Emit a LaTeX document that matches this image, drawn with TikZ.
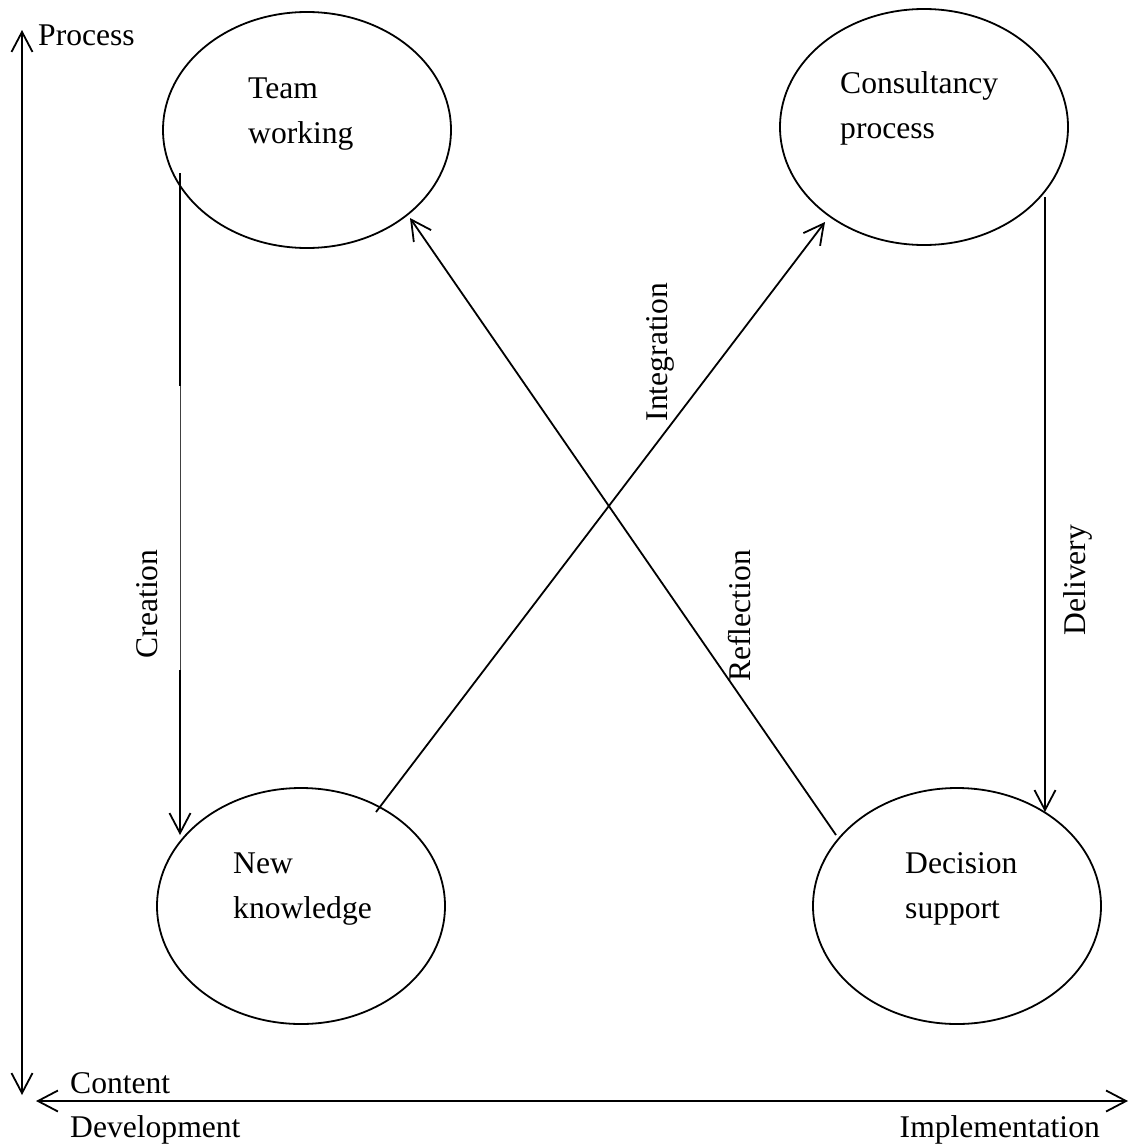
\documentclass[tikz,border=0pt]{standalone}
\usepackage{fontspec}
\setmainfont{Liberation Serif}
\usetikzlibrary{shapes.geometric,arrows.meta}
\begin{document}
\begin{tikzpicture}[x=1pt,y=-1pt,
  every node/.style={font=\fontsize{31.6}{38}\selectfont, inner sep=0pt},
  bubble/.style={draw, ellipse, line width=1.8pt, minimum width=288pt, minimum height=236pt},
  txt/.style={anchor=base west},
  conn/.style={line width=1.8pt, -{Straight Barb[length=20pt,width=21pt,line width=1.8pt]}},
  axis/.style={line width=1.8pt, {Straight Barb[length=20pt,width=21pt,line width=1.8pt]}-{Straight Barb[length=20pt,width=21pt,line width=1.8pt]}}]
\useasboundingbox (0,0) rectangle (1129,1146);
\fill[white] (0,0) rectangle (1129,1146);

% ellipses
\node[bubble] (tw) at (307,130) {};
\node[bubble] (cp) at (924,127) {};
\node[bubble] (nk) at (301,906) {};
\node[bubble] (ds) at (957,906) {};

% texts in ellipses
\node[txt] (tw1) at (248,98) {Team};
\node[txt] (tw2) at (248,143) {working};
\node[txt] (cp1) at (840,93) {Consultancy};
\node[txt] (cp2) at (840,138) {process};
\node[txt] (nk1) at (233,873) {New};
\node[txt] (nk2) at (233,918) {knowledge};
\node[txt] (ds1) at (905,873) {Decision};
\node[txt] (ds2) at (905,918) {support};

% connector end points
\coordinate (crS) at (180,173);
\coordinate (crE) at (180,835);
\coordinate (dlS) at (1045,197);
\coordinate (dlE) at (1045,812);
\coordinate (inS) at (376,812);
\coordinate (inE) at (825,222);
\coordinate (rfS) at (836,835);
\coordinate (rfE) at (410,218);

\draw[conn] (crS) -- (crE);
\draw[white, line width=2pt] (180,386) -- (180,670);
\draw[black!75, line width=0.9pt] (180,386) -- (180,670);
\draw[conn] (dlS) -- (dlE);
\draw[conn] (inS) -- (inE);
\draw[conn] (rfS) -- (rfE);

% connector labels
\node[rotate=90] (lcr) at (147,604) {Creation};
\node[rotate=90] (ldl) at (1078,580) {Delivery};
\node[rotate=90] (lin) at (660,352) {Integration};
\node[rotate=90] (lrf) at (740,616) {Reflection};

% axes
\coordinate (vT) at (22,30);
\coordinate (vB) at (22,1095);
\coordinate (hL) at (36,1101);
\coordinate (hR) at (1128,1101);
\draw[axis] (vB) -- (vT);
\draw[axis] (hL) -- (hR);

\node[txt] (lp) at (38,45) {Process};
\node[txt] (lc) at (70,1093) {Content};
\node[txt] (ld) at (70,1137) {Development};
\node[anchor=base east] (li) at (1100,1137) {Implementation};
\end{tikzpicture}
\end{document}
